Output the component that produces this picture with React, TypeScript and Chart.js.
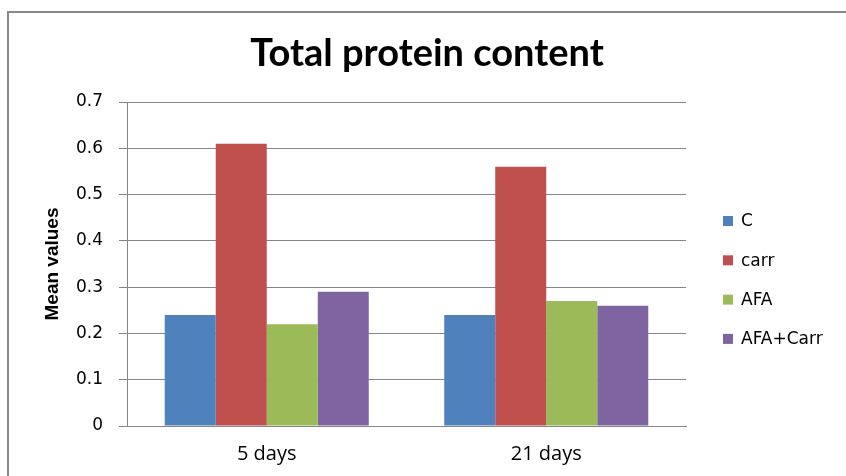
import React, { useEffect, useRef } from "react";
import { Chart, registerables } from "chart.js";

Chart.register(...registerables);

const categories = ["5 days", "21 days"];
const seriesNames = ["C", "carr", "AFA", "AFA+Carr"];
const seriesColors = ["#4F81BD", "#C0504D", "#9BBB59", "#8064A2"];
const valuesC = [0.24, 0.24];
const valuesCarr = [0.61, 0.56];
const valuesAFA = [0.22, 0.27];
const valuesAFACarr = [0.29, 0.26];
const yTickLabels = ["0", "0.1", "0.2", "0.3", "0.4", "0.5", "0.6", "0.7"];

const GRID = "#868686";

const frameAndLegend = {
  id: "frameAndLegend",
  afterDraw(chart: any) {
    const ctx = chart.ctx;
    ctx.save();
    // outer frame (top and left edges visible)
    ctx.strokeStyle = "#888888";
    ctx.lineWidth = 2;
    ctx.beginPath();
    ctx.moveTo(8, 476);
    ctx.lineTo(8, 12);
    ctx.lineTo(846, 12);
    ctx.stroke();
    // legend
    const x0 = 723;
    const y0 = 221;
    const step = 39.3;
    ctx.font = "17px 'DejaVu Sans'";
    ctx.textBaseline = "middle";
    ctx.textAlign = "left";
    chart.data.datasets.forEach((ds: any, i: number) => {
      const cy = y0 + i * step;
      ctx.fillStyle = ds.backgroundColor;
      ctx.fillRect(x0, cy - 5, 10, 10);
      ctx.fillStyle = "#000";
      ctx.fillText(ds.label, x0 + 18, cy + 1);
    });
    ctx.restore();
  },
};

export default function App() {
  const ref = useRef<HTMLCanvasElement>(null);
  useEffect(() => {
    if (!ref.current) return;
    const seriesValues = [valuesC, valuesCarr, valuesAFA, valuesAFACarr];
    const chart = new Chart(ref.current, {
      type: "bar",
      data: {
        labels: categories,
        datasets: seriesNames.map((name, i) => ({
          label: name,
          data: seriesValues[i],
          backgroundColor: seriesColors[i],
          borderWidth: 0,
          barPercentage: 1,
          categoryPercentage: 0.73,
          yAxisID: "y",
        })),
      },
      options: {
        animation: false,
        responsive: false,
        maintainAspectRatio: false,
        layout: { padding: { left: 8, right: 0, top: 31, bottom: 0 } },
        plugins: {
          legend: { display: false },
          tooltip: { enabled: false },
          title: {
            display: true,
            text: "Total protein content",
            color: "#000",
            font: { family: "Lato", size: 38, weight: "bold", lineHeight: 1.2 },
            padding: { top: 0, bottom: 25.4 },
          },
        },
        scales: {
          x: {
            grid: { display: false, drawTicks: false },
            border: { display: true, color: GRID, width: 1 },
            ticks: {
              color: "#000",
              font: { family: "Open Sans", size: 20 },
              padding: 16,
            },
            afterFit: (s: any) => {
              s.height = 50;
            },
          },
          y: {
            min: 0,
            max: 0.7,
            grid: { color: GRID, lineWidth: 1, tickLength: 8, drawTicks: true },
            border: { display: true, color: GRID, width: 1 },
            ticks: {
              stepSize: 0.1,
              color: "#000",
              font: { family: "DejaVu Sans", size: 17 },
              padding: 16,
              callback: (_v: any, i: number) => yTickLabels[i],
            },
            title: {
              display: true,
              text: "Mean values",
              color: "#000",
              font: { family: "Liberation Sans", size: 19, weight: "bold", lineHeight: 1.2 },
              padding: { top: 33, bottom: 0 },
            },
            afterFit: (s: any) => {
              s.width = 119;
            },
          },
          legendSpace: {
            type: "linear",
            position: "right",
            display: true,
            grid: { display: false, drawTicks: false },
            border: { display: false },
            ticks: { display: false },
            afterFit: (s: any) => {
              s.width = 160;
            },
          },
        },
      },
      plugins: [frameAndLegend],
    });
    return () => chart.destroy();
  }, []);
  return (
    <div style={{ position: "absolute", left: 0, top: 0, width: 846, height: 476, background: "#fff" }}>
      <canvas ref={ref} width={846} height={476} style={{ display: "block" }} />
    </div>
  );
}
